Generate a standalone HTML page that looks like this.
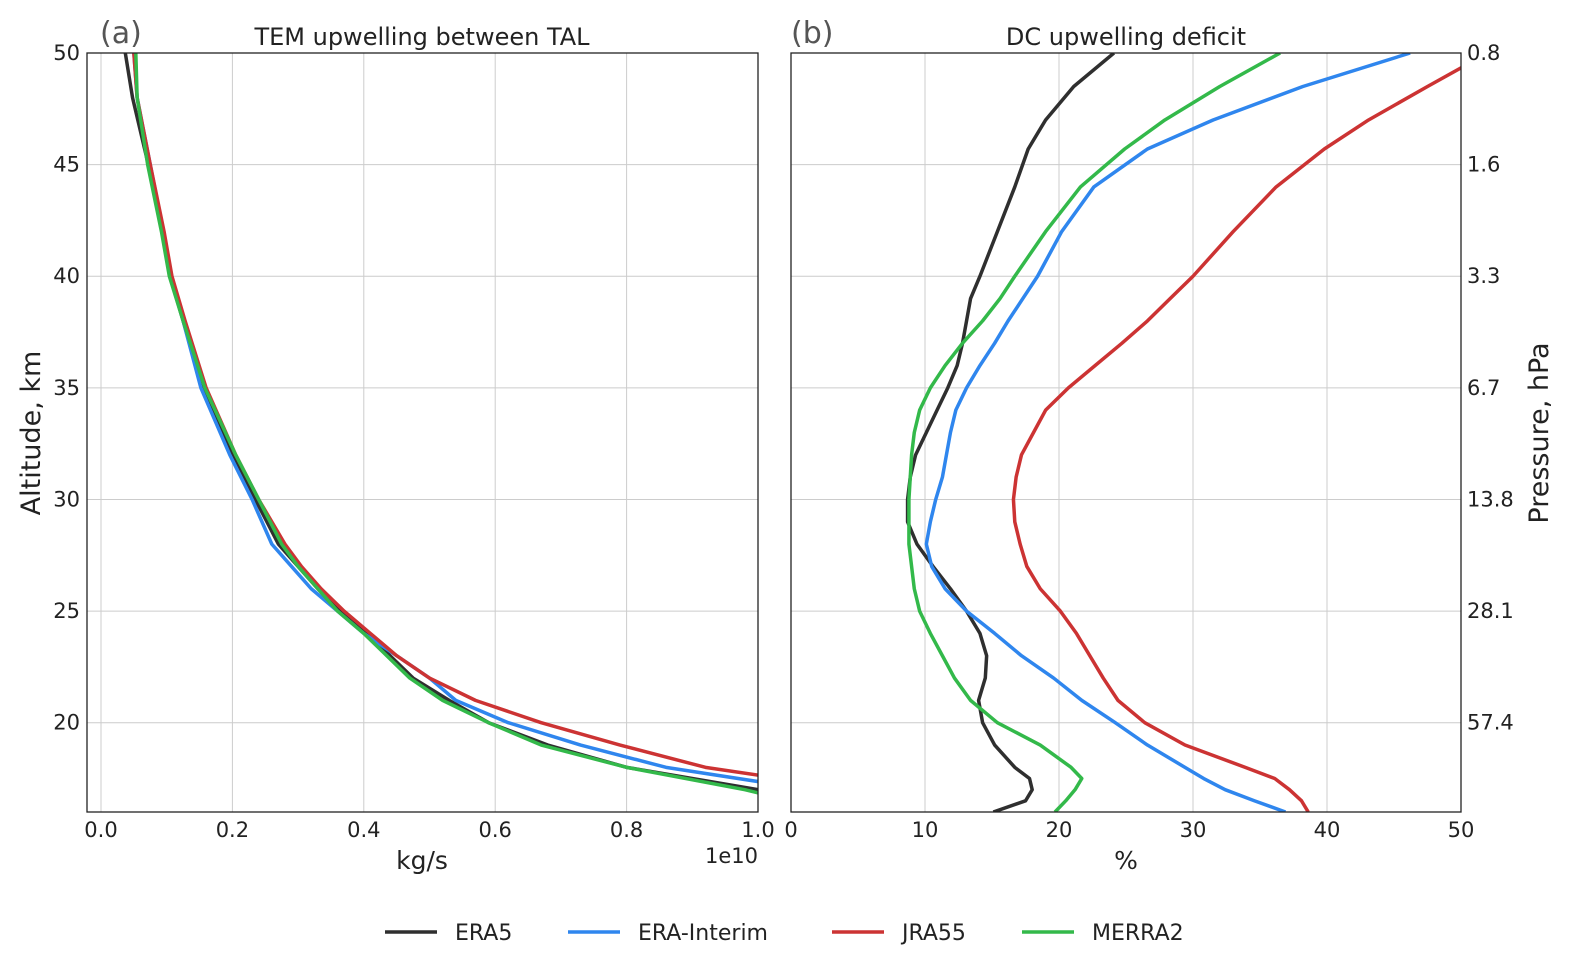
<!DOCTYPE html>
<html><head><meta charset="utf-8"><style>
body{margin:0;background:#fff;}
svg{display:block;font-family:"DejaVu Sans","Liberation Sans",sans-serif;}
</style></head><body>
<svg id="c" width="1591" height="976"></svg>
<script>
// Panel (a) data: altitude (km) and mass flux (x1e10 kg/s)
const altA = [16,17,18,19,20,21,22,23,24,25,26,27,28,30,32,35,38,40,42,45,48,50];
const aERA5 = [1.15,1.0,0.80,0.68,0.59,0.53,0.475,0.44,0.405,0.365,0.33,0.30,0.27,0.235,0.2,0.155,0.125,0.105,0.093,0.072,0.048,0.037];
const aERAI = [1.3,1.08,0.86,0.73,0.62,0.54,0.50,0.45,0.40,0.36,0.32,0.29,0.26,0.23,0.196,0.152,0.125,0.106,0.095,0.075,0.055,0.05];
const aJRA = [1.4,1.15,0.92,0.79,0.67,0.57,0.50,0.45,0.41,0.37,0.335,0.305,0.28,0.24,0.205,0.16,0.128,0.108,0.096,0.075,0.055,0.05];
const aMER = [1.12,0.98,0.80,0.67,0.59,0.52,0.47,0.435,0.40,0.36,0.33,0.30,0.275,0.24,0.205,0.158,0.125,0.104,0.092,0.071,0.055,0.053];
// Panel (b) data: altitude (km) and deficit (%)
const altB = [16,16.5,17,17.5,18,19,20,21,22,23,24,25,26,27,28,29,30,31,32,33,34,35,36,37,38,39,40,42,44,45.7,47,48.5,50];
const bERA5 = [15.1,17.5,18.0,17.8,16.7,15.2,14.3,14.0,14.5,14.6,14.1,13.1,11.9,10.6,9.4,8.7,8.7,8.9,9.3,10.1,10.9,11.7,12.4,12.8,13.1,13.4,14.1,15.4,16.7,17.7,19.0,21.1,24.1];
const bERAI = [36.9,34.6,32.4,30.8,29.4,26.6,24.2,21.7,19.6,17.2,15.2,13.1,11.5,10.5,10.1,10.4,10.8,11.3,11.6,11.9,12.3,13.1,14.1,15.2,16.2,17.3,18.4,20.2,22.6,26.6,31.5,38.2,46.2];
const bJRA = [38.6,38.1,37.2,36.1,33.9,29.4,26.4,24.4,23.3,22.3,21.3,20.1,18.6,17.6,17.1,16.7,16.6,16.8,17.2,18.1,19.0,20.7,22.7,24.7,26.6,28.3,30.0,33.0,36.2,39.8,43.1,47.5,52];
const bMER = [19.7,20.5,21.2,21.7,20.9,18.6,15.4,13.4,12.2,11.3,10.4,9.6,9.2,9.0,8.8,8.8,8.8,8.9,9.0,9.2,9.6,10.4,11.5,12.8,14.3,15.6,16.7,19.0,21.6,24.9,27.9,32.0,36.5];
const xTicksA = [0.0,0.2,0.4,0.6,0.8,1.0];
const xTicksB = [0,10,20,30,40,50];
const yTicks = [20,25,30,35,40,45,50];
const pLabels = ["57.4","28.1","13.8","6.7","3.3","1.6","0.8"];
const names = ["ERA5","ERA-Interim","JRA55","MERRA2"];
const colors = ["#2f2f2f","#2f86ee","#cc3333","#33b94a"];

const svg = document.getElementById('c');
const NS='http://www.w3.org/2000/svg';
function mk(t,a,p){const e=document.createElementNS(NS,t);for(const k in a)e.setAttribute(k,a[k]);(p||svg).appendChild(e);return e;}
const topY=53,botY=812;
const y=v=>topY+(50-v)*(botY-topY)/34;
const xa=v=>101+v*657;
const xb=v=>791+v*13.4;
function panel(L,R,xf,ticks,fmt,key){
  const g=mk('g',{});
  
  
  const cp=mk('clipPath',{id:'cl'+key},g); mk('rect',{x:L,y:topY,width:R-L,height:botY-topY},cp);
  ticks.forEach(t=>{const X=xf(t);mk('line',{x1:X,x2:X,y1:topY,y2:botY,stroke:'#cccccc','stroke-width':1},g);
    const tx=mk('text',{x:X,y:837,'font-size':21,fill:'#222','text-anchor':'middle'},g);tx.textContent=fmt(t);
    
    });
  yTicks.forEach(t=>mk('line',{x1:L,x2:R,y1:y(t),y2:y(t),stroke:'#cccccc','stroke-width':1},g));
  return g;
}
function series(g,alts,vals,xf,col,key,name){
  const p=mk('polyline',{points:alts.map((a,i)=>xf(vals[i])+','+y(a)).join(' '),fill:'none',stroke:col,'stroke-width':3.5,'stroke-linejoin':'round','clip-path':'url(#cl'+key+')'},g);
  
  
}
const gA=panel(87,758,xa,xTicksA,t=>t.toFixed(1),'a');
const gB=panel(791,1461,xb,xTicksB,t=>String(t),'b');
[aERA5,aERAI,aJRA,aMER].forEach((s,i)=>series(gA,altA,s,xa,colors[i],'a',names[i]));
[bERA5,bERAI,bJRA,bMER].forEach((s,i)=>series(gB,altB,s,xb,colors[i],'b',names[i]));
mk('rect',{x:87,y:topY,width:671,height:botY-topY,fill:'none',stroke:'#222','stroke-width':1.3});
mk('rect',{x:791,y:topY,width:670,height:botY-topY,fill:'none',stroke:'#222','stroke-width':1.3});
yTicks.forEach((t,i)=>{
  const a=mk('text',{x:80,y:y(t)+7,'font-size':21,fill:'#222','text-anchor':'end'});a.textContent=t;
  
  
  const b=mk('text',{x:1467,y:y(t)+7,'font-size':21,fill:'#222'});b.textContent=pLabels[i];
  
  
});
function txt(s,at,name){const e=mk('text',at);e.textContent=s;return e;}
txt('(a)',{x:100,y:43,'font-size':30,fill:'#555'},'panel-a-label');
txt('(b)',{x:791,y:43,'font-size':30,fill:'#555'},'panel-b-label');
txt('TEM upwelling between TAL',{x:422,y:45,'font-size':24,fill:'#222','text-anchor':'middle'},'panel-a-title');
txt('DC upwelling deficit',{x:1126,y:45,'font-size':24,fill:'#222','text-anchor':'middle'},'panel-b-title');
txt('kg/s',{x:422,y:869,'font-size':25,fill:'#222','text-anchor':'middle'},'x-axis-title-a');
txt('1e10',{x:758,y:863,'font-size':21,fill:'#222','text-anchor':'end'},'x-offset-label');
txt('%',{x:1126,y:869,'font-size':25,fill:'#222','text-anchor':'middle'},'x-axis-title-b');
txt('Altitude, km',{x:0,y:0,'font-size':27,fill:'#222','text-anchor':'middle',transform:'translate(40,433) rotate(-90)'},'y-axis-title');
txt('Pressure, hPa',{x:0,y:0,'font-size':27,fill:'#222','text-anchor':'middle',transform:'translate(1548,433) rotate(-90)'},'y-axis-title-right');
const lx=[385,568,832,1022];
names.forEach((n,i)=>{
  const g=mk('g',{});
  
  
  mk('line',{x1:lx[i],x2:lx[i]+52,y1:932,y2:932,stroke:colors[i],'stroke-width':3.5},g);
  const t=mk('text',{x:lx[i]+70,y:940,'font-size':22,fill:'#222'},g);t.textContent=n;
});
</script>
</body></html>
